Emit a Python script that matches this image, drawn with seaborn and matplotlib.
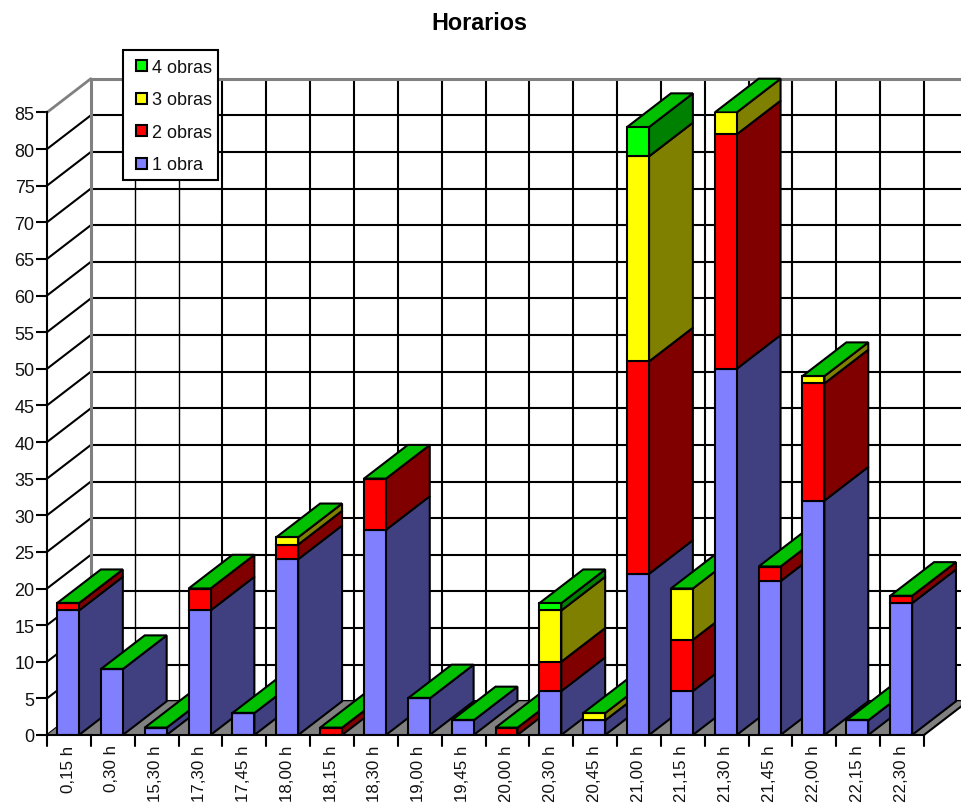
import numpy as np
import matplotlib
matplotlib.use("Agg")
import matplotlib.pyplot as plt
from matplotlib.patches import Polygon
import seaborn as sns

hours = ["0,15 h", "0,30 h", "15,30 h", "17,30 h", "17,45 h", "18,00 h", "18,15 h",
         "18,30 h", "19,00 h", "19,45 h", "20,00 h", "20,30 h", "20,45 h", "21,00 h",
         "21,15 h", "21,30 h", "21,45 h", "22,00 h", "22,15 h", "22,30 h"]
obra1 = [17, 9, 1, 17, 3, 24, 0, 28, 5, 2, 0, 6, 2, 22, 6, 50, 21, 32, 2, 18]
obra2 = [1, 0, 0, 3, 0, 2, 1, 7, 0, 0, 1, 4, 0, 29, 7, 32, 2, 16, 0, 1]
obra3 = [0, 0, 0, 0, 0, 1, 0, 0, 0, 0, 0, 7, 1, 28, 7, 3, 0, 1, 0, 0]
obra4 = [0, 0, 0, 0, 0, 0, 0, 0, 0, 0, 0, 1, 0, 4, 0, 0, 0, 0, 0, 0]
series_names = ["1 obra", "2 obras", "3 obras", "4 obras"]
front_colors = ["#8080ff", "#ff0000", "#ffff00", "#00ff00"]
side_colors = ["#404080", "#800000", "#808000", "#008000"]
top_color = "#00c000"
y_ticks = list(range(0, 90, 5))

W, H = 961, 804
LW = 1.5
DX = 1.0    # depth of the fake 3d, in categories
DY = 4.6    # depth of the fake 3d, in y units
X0 = -0.479 # left edge of the front plane


def draw_walls(ax):
    x_back = X0 + DX
    ax.add_patch(Polygon([(X0, 0), (X0 + 20, 0), (X0 + 20 + DX, DY), (x_back, DY)],
                         closed=True, fc="#808080", ec="none", zorder=2, clip_on=False))
    ax.plot([X0 + 20, X0 + 20 + DX], [0, DY], color="black", lw=LW, zorder=2.5, clip_on=False)
    for v in y_ticks[:-1]:
        ax.plot([X0, x_back], [v, v + DY], color="black", lw=LW, zorder=1, clip_on=False)
        ax.plot([x_back, x_back + 20], [v + DY, v + DY], color="black", lw=LW, zorder=1, clip_on=False)
    for k in range(1, 20):
        # the two first verticals are thinner in the original
        width = 1.0 if k < 3 else LW
        ax.plot([x_back + k] * 2, [DY, 85 + DY], color="black", lw=width, zorder=1, clip_on=False)
    ax.plot([X0, x_back], [85, 85 + DY], color="#808080", lw=2, zorder=1.5, clip_on=False)
    ax.plot([x_back, x_back + 20], [85 + DY, 85 + DY], color="#808080", lw=2.2, zorder=1.5, clip_on=False)
    ax.plot([x_back] * 2, [DY, 85 + DY], color="#808080", lw=2.2, zorder=1.5, clip_on=False)


def draw_bars(ax):
    bottom = np.zeros(len(hours))
    all_series = [obra1, obra2, obra3, obra4]
    half = 0.25
    for i, values in enumerate(all_series):
        values = np.array(values, dtype=float)
        sns.barplot(x=hours, y=values, bottom=bottom, width=0.5, color=front_colors[i],
                    saturation=1, edgecolor="black", linewidth=LW, label=series_names[i], ax=ax)
        for k, patch in enumerate(ax.containers[-1]):
            patch.set_zorder(10 + k * 3 + 2)
            if values[k] > 0:
                xr = k + half
                low, high = bottom[k], bottom[k] + values[k]
                ax.add_patch(Polygon([(xr, low), (xr + DX, low + DY), (xr + DX, high + DY), (xr, high)],
                                     closed=True, fc=side_colors[i], ec="black", lw=LW,
                                     zorder=10 + k * 3, clip_on=False))
        bottom = bottom + values
    for k, total in enumerate(bottom):
        xl, xr = k - half, k + half
        ax.add_patch(Polygon([(xl, total), (xr, total), (xr + DX, total + DY), (xl + DX, total + DY)],
                             closed=True, fc=top_color, ec="black", lw=LW,
                             zorder=10 + k * 3 + 1, clip_on=False))


def main():
    sns.set_theme(style="white")
    plt.rcParams["font.family"] = ["Liberation Sans", "DejaVu Sans"]
    fig = plt.figure(figsize=(W / 100, H / 100), dpi=100)
    ax = fig.add_axes([47 / W, 1 - 736 / H, 877 / W, 622.6 / H])
    ax.patch.set_alpha(0)

    draw_walls(ax)
    draw_bars(ax)

    ax.set_xlim(X0, X0 + 20)
    ax.set_ylim(0, 85)
    ax.set_yticks(y_ticks)
    ax.set_xticks(np.arange(20))
    ax.set_xticklabels(hours, rotation=90, fontsize=12.2, color="#111111")
    ax.tick_params(axis="x", length=0, pad=6.8)
    ax.tick_params(axis="y", length=8, width=LW, color="black", pad=1, labelsize=13, left=True,
                   labelcolor="#111111")
    for x in X0 + np.arange(21):
        ax.plot([x, x], [0, -1.45], color="black", lw=LW, clip_on=False, zorder=5)
    for side in ["top", "right"]:
        ax.spines[side].set_visible(False)
    for side in ["left", "bottom"]:
        ax.spines[side].set_color("black")
        ax.spines[side].set_linewidth(LW)
        ax.spines[side].set_zorder(100)
    ax.set_xlabel("")
    ax.set_ylabel("")

    handles, labels = ax.get_legend_handles_labels()
    leg = ax.legend(handles[::-1], labels[::-1], loc="upper left", bbox_to_anchor=(123 / W, 1 - 50.5 / H),
                    bbox_transform=fig.transFigure, borderaxespad=0, fontsize=13, fancybox=False,
                    framealpha=1, edgecolor="black", handlelength=0.95, handleheight=1.2,
                    handletextpad=0.25, labelspacing=0.73, borderpad=0.38, labelcolor="#111111")
    leg.get_frame().set_linewidth(LW)
    leg.set_zorder(200)
    # legend pad is uneven in the original: squares sit at the right of a taller slot
    size = 11 * 0.72
    for patch in leg.legend_handles:
        x_pos, y_pos = patch.get_x(), patch.get_y()
        width, height = patch.get_width(), patch.get_height()
        patch.set_x(x_pos + width - size)
        patch.set_y(y_pos + (height - size) / 2)
        patch.set_width(size)
        patch.set_height(size)

    fig.text(479 / W, 1 - 23 / H, "Horarios", ha="center", va="center", fontsize=16.8,
             fontweight="bold", color="black")
    fig.savefig("out.png", dpi=100)


if __name__ == "__main__":
    main()
